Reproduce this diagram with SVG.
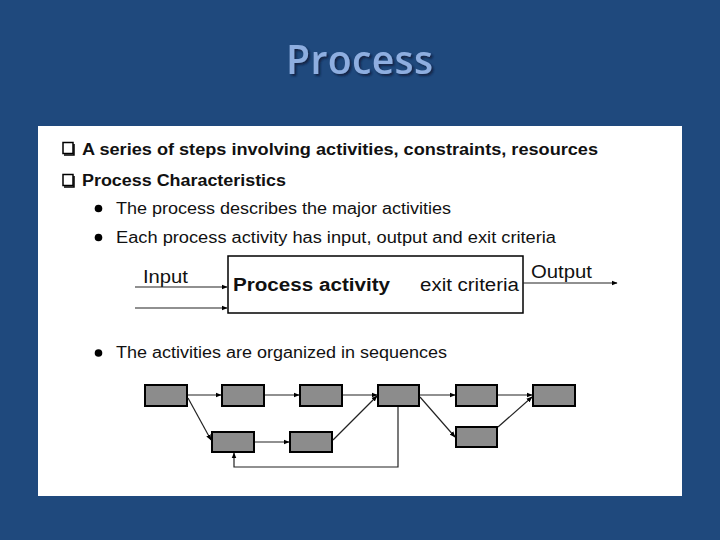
<svg xmlns="http://www.w3.org/2000/svg" width="720" height="540" viewBox="0 0 720 540">
<defs>
<style>
.t{font-family:"Liberation Sans",Arial,sans-serif;fill:#111}
.b{font-weight:bold}
.box{fill:#8c8c8c;stroke:#000;stroke-width:2}
.c{fill:none;stroke:#222;stroke-width:1.2}
.chk{fill:#fff;stroke:#000;stroke-width:1.5}
</style>
<filter id="sh" x="-10%" y="-30%" width="130%" height="160%">
<feDropShadow dx="2" dy="2" stdDeviation="1" flood-color="#0a1e38" flood-opacity="0.8"/>
</filter>
<marker id="ah" viewBox="0 0 10 10" refX="9" refY="5" markerWidth="6" markerHeight="6" markerUnits="userSpaceOnUse" orient="auto">
<path d="M0,1 L10,5 L0,9 z" fill="#000"/>
</marker>
</defs>
<rect width="720" height="540" fill="#1f497d"/>
<text x="286" y="74" font-family="'Open Sans','Noto Sans',sans-serif" font-size="39" font-weight="600" fill="#8eaee0" filter="url(#sh)" textLength="147" lengthAdjust="spacing">Process</text>
<rect x="38" y="126" width="644" height="370" fill="#fff"/>

<g id="bullets">
<rect class="chk" x="63" y="142.5" width="10" height="11"/>
<path d="M74,144 V155 H64" fill="none" stroke="#000" stroke-width="1.5"/>
<rect class="chk" x="63" y="174.5" width="10" height="11"/>
<path d="M74,176 V187 H64" fill="none" stroke="#000" stroke-width="1.5"/>
<circle cx="98.5" cy="208.5" r="3.8" fill="#000"/>
<circle cx="98.5" cy="237.5" r="3.8" fill="#000"/>
<circle cx="98.5" cy="353" r="3.8" fill="#000"/>
</g>
<g id="text">
<text class="t b" x="82" y="155" font-size="16" textLength="516" lengthAdjust="spacingAndGlyphs">A series of steps involving activities, constraints, resources</text>
<text class="t b" x="82" y="186" font-size="16" textLength="204" lengthAdjust="spacingAndGlyphs">Process Characteristics</text>
<text class="t" x="116" y="214" font-size="16" textLength="335" lengthAdjust="spacingAndGlyphs">The process describes the major activities</text>
<text class="t" x="116" y="243" font-size="16" textLength="440" lengthAdjust="spacingAndGlyphs">Each process activity  has input, output and exit criteria</text>
<text class="t" x="116" y="358" font-size="16" textLength="331" lengthAdjust="spacingAndGlyphs">The activities are organized in sequences</text>
</g>

<g id="process-activity">
<rect x="228" y="256" width="295" height="57" fill="#fff" stroke="#000" stroke-width="1.5"/>
<text class="t b" x="233" y="291" font-size="18" textLength="157" lengthAdjust="spacingAndGlyphs">Process activity</text>
<text class="t" x="420" y="291" font-size="18" textLength="99" lengthAdjust="spacingAndGlyphs">exit criteria</text>
</g>
<g id="io-labels">
<text class="t" x="143" y="283" font-size="18" textLength="45" lengthAdjust="spacingAndGlyphs">Input</text>
<text class="t" x="531" y="278" font-size="18" textLength="61" lengthAdjust="spacingAndGlyphs">Output</text>
</g>

<g id="n1"><rect class="box" x="145" y="385" width="42" height="21"/></g>
<g id="n2"><rect class="box" x="222" y="385" width="42" height="21"/></g>
<g id="n3"><rect class="box" x="300" y="385" width="42" height="21"/></g>
<g id="n4"><rect class="box" x="378" y="385" width="41" height="21"/></g>
<g id="n5"><rect class="box" x="456" y="385" width="41" height="21"/></g>
<g id="n6"><rect class="box" x="533" y="385" width="42" height="21"/></g>
<g id="n7"><rect class="box" x="212" y="432" width="42" height="20"/></g>
<g id="n8"><rect class="box" x="290" y="432" width="42" height="20"/></g>
<g id="n9"><rect class="box" x="456" y="427" width="41" height="20"/></g>

<g id="connectors">
<line class="c" x1="135" y1="287" x2="227" y2="287" marker-end="url(#ah)"/>
<line class="c" x1="135" y1="308" x2="227" y2="308" marker-end="url(#ah)"/>
<line class="c" x1="523" y1="283" x2="617" y2="283" marker-end="url(#ah)"/>
<line class="c" x1="188" y1="395" x2="221" y2="395" marker-end="url(#ah)"/>
<line class="c" x1="265" y1="395" x2="299" y2="395" marker-end="url(#ah)"/>
<line class="c" x1="343" y1="395" x2="377" y2="395" marker-end="url(#ah)"/>
<line class="c" x1="188" y1="398" x2="211" y2="440" marker-end="url(#ah)"/>
<line class="c" x1="255" y1="442" x2="289" y2="442" marker-end="url(#ah)"/>
<line class="c" x1="333" y1="440" x2="377" y2="396" marker-end="url(#ah)"/>
<path class="c" d="M398,407 V467 H234 V453" marker-end="url(#ah)"/>
<line class="c" x1="420" y1="395" x2="455" y2="395" marker-end="url(#ah)"/>
<line class="c" x1="420" y1="397" x2="455" y2="437" marker-end="url(#ah)"/>
<line class="c" x1="498" y1="395" x2="532" y2="395" marker-end="url(#ah)"/>
<line class="c" x1="498" y1="427" x2="532" y2="397" marker-end="url(#ah)"/>
</g>
</svg>
